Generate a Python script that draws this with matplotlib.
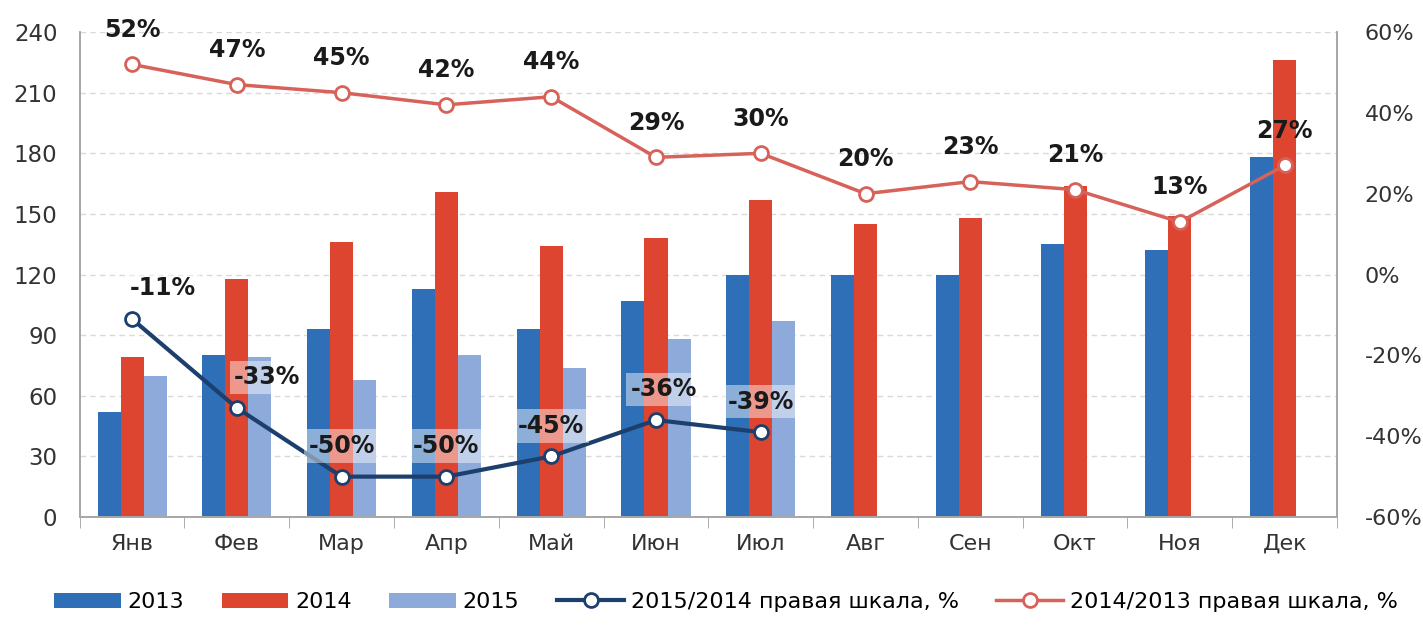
import numpy as np
import matplotlib
matplotlib.use('Agg')
import matplotlib.pyplot as plt
from matplotlib.ticker import FixedLocator, FuncFormatter

months = ['Янв', 'Фев', 'Мар', 'Апр', 'Май', 'Июн', 'Июл', 'Авг', 'Сен', 'Окт', 'Ноя', 'Дек']
v2013 = [52, 80, 93, 113, 93, 107, 120, 120, 120, 135, 132, 178]
v2014 = [79, 118, 136, 161, 134, 138, 157, 145, 148, 164, 149, 226]
v2015 = [70, 79, 68, 80, 74, 88, 97]
r15_14 = [-11, -33, -50, -50, -45, -36, -39]
r14_13 = [52, 47, 45, 42, 44, 29, 30, 20, 23, 21, 13, 27]

c2013 = '#2e6fb7'
c2014 = '#dd4530'
c2015 = '#8eaadb'
c_line1 = '#1d3f6e'
c_line2 = '#d6625a'

plt.rcParams['font.family'] = ['DejaVu Sans']

fig = plt.figure(figsize=(14.23, 6.29), dpi=100)
ax = fig.add_axes([0.056, 0.178, 0.8836, 0.771])
ax2 = ax.twinx()

x = np.arange(len(months))
w = 0.22
ax.bar(x - w, v2013, w, color=c2013, label='2013', zorder=2)
ax.bar(x, v2014, w, color=c2014, label='2014', zorder=2)
ax.bar(x[:len(v2015)] + w, v2015, w, color=c2015, label='2015', zorder=2)

ax.set_xlim(-0.5, len(months) - 0.5)
ax.set_ylim(0, 240)
ax.set_yticks(np.arange(0, 241, 30))
ax.grid(axis='y', color='#d9d9d9', linestyle=(0, (4, 3)), linewidth=1, zorder=0)
ax.set_axisbelow(True)
ax.set_xticks(x)
ax.set_xticklabels(months)
ax.xaxis.set_minor_locator(FixedLocator(np.arange(-0.5, len(months), 1.0)))
ax.tick_params(axis='x', which='major', length=0, pad=12, labelsize=16, colors='#333333')
ax.tick_params(axis='x', which='minor', length=8, color='#a0a0a0', direction='out')
ax.tick_params(axis='y', length=0, pad=16, labelsize=16.5, colors='#333333')

ax2.set_ylim(-60, 60)
ax2.set_yticks(np.arange(-60, 61, 20))
ax2.yaxis.set_major_formatter(FuncFormatter(lambda v, p: '%d%%' % v))
ax2.tick_params(axis='y', length=0, pad=20, labelsize=16, colors='#333333')

for a in (ax, ax2):
    a.spines['top'].set_visible(False)
    for s in ('left', 'right', 'bottom'):
        a.spines[s].set_color('#a6a6a6')
        a.spines[s].set_linewidth(1.2)

ax2.plot(x[:len(r15_14)], r15_14, color=c_line1, linewidth=3, marker='o', markersize=10,
         markerfacecolor='white', markeredgecolor=c_line1, markeredgewidth=2,
         label='2015/2014 правая шкала, %', zorder=4)
ax2.plot(x, r14_13, color=c_line2, linewidth=2.5, marker='o', markersize=10,
         markerfacecolor='white', markeredgecolor=c_line2, markeredgewidth=2,
         label='2014/2013 правая шкала, %', zorder=4)

for i, v in enumerate(r14_13):
    ax2.annotate('%d%%' % v, (x[i], v), xytext=(0, 25), textcoords='offset points',
                 ha='center', va='center', fontsize=17, fontweight='bold', color='#1a1a1a', zorder=5)

nudge = [22, 22, 0, 0, 0, 6, 0]
for i, v in enumerate(r15_14):
    ax2.annotate('%d%%' % v, (x[i], v), xytext=(nudge[i], 22), textcoords='offset points',
                 ha='center', va='center', fontsize=17, fontweight='bold', color='#1a1a1a', zorder=5,
                 bbox=dict(boxstyle='square,pad=0.2', facecolor='white', edgecolor='none', alpha=0.45))

h1, l1 = ax.get_legend_handles_labels()
h2, l2 = ax2.get_legend_handles_labels()
fig.legend(h1 + h2, l1 + l2, loc='lower center', bbox_to_anchor=(0.51, -0.005), ncol=5,
           frameon=False, fontsize=16, handlelength=3.0, handletextpad=0.3, columnspacing=1.7)

fig.savefig('out.png', dpi=100)
